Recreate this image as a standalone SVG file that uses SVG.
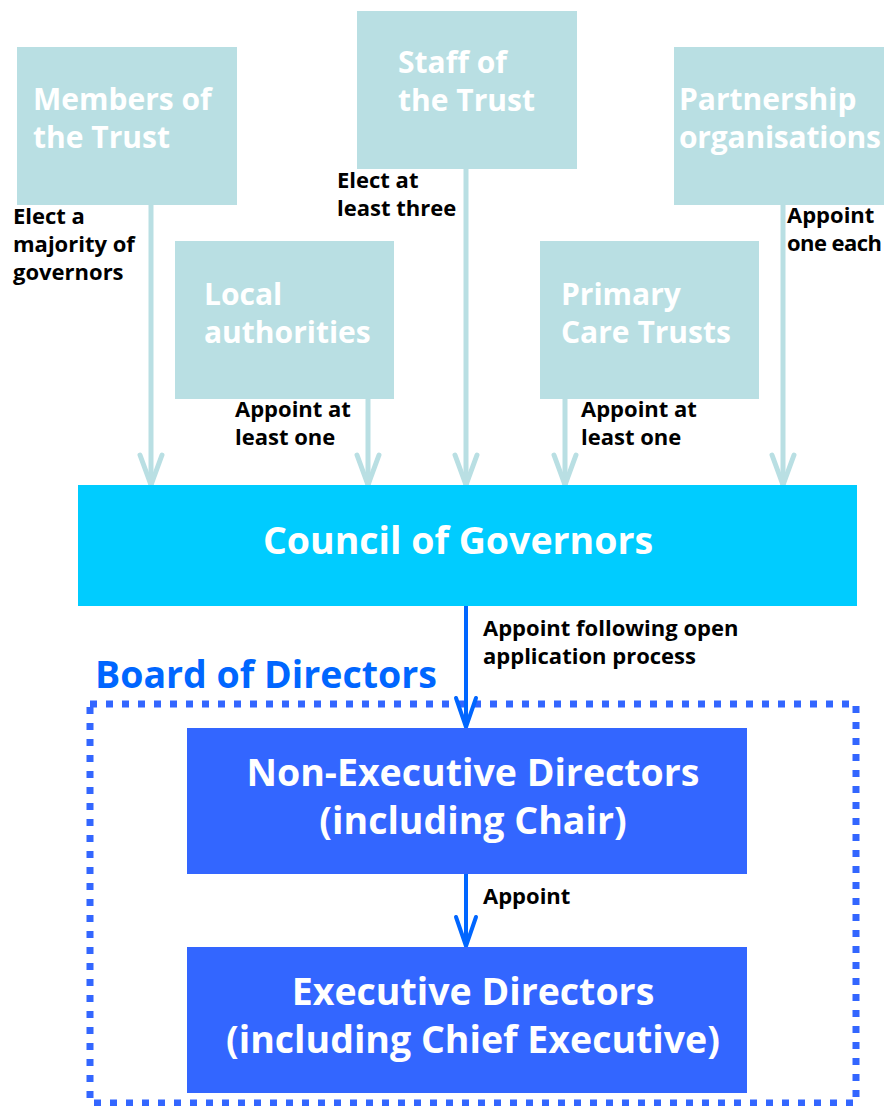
<svg xmlns="http://www.w3.org/2000/svg" width="884" height="1106" viewBox="0 0 884 1106">
<style>
.src{fill:#b9dfe3}
.srct{font-family:"Open Sans","Noto Sans",sans-serif;font-weight:bold;font-size:30px;fill:#ffffff}
.lbl{font-family:"Open Sans","Noto Sans",sans-serif;font-weight:bold;font-size:22px;fill:#000000}
.big{font-family:"Open Sans","Noto Sans",sans-serif;font-weight:bold;font-size:37.5px;fill:#ffffff;text-anchor:middle}
.lc{stroke:#b9dfe3;stroke-width:5;fill:none}
.bc{stroke:#0066ff;stroke-width:4;fill:none}
</style>
<defs>
<marker id="ahL" markerUnits="userSpaceOnUse" orient="auto" refX="0" refY="0" markerWidth="40" markerHeight="40" viewBox="-35 -15 40 30" overflow="visible">
<path d="M-30,-11 L0,0 L-30,11" fill="none" stroke="#b9dfe3" stroke-width="5" stroke-linecap="round" stroke-linejoin="round"/>
</marker>
<marker id="ahB" markerUnits="userSpaceOnUse" orient="auto" refX="0" refY="0" markerWidth="40" markerHeight="40" viewBox="-35 -15 40 30" overflow="visible">
<path d="M-29,-10 L0,0 L-29,10" fill="none" stroke="#0066ff" stroke-width="4" stroke-linecap="round" stroke-linejoin="round"/>
</marker>
</defs>
<rect width="884" height="1106" fill="#ffffff"/>

<g id="board">
<rect x="90" y="704" width="766" height="399" fill="none" stroke="#3366ff" stroke-width="7" stroke-dasharray="7 9"/>
<text x="95" y="688" font-family="Open Sans, Noto Sans, sans-serif" font-weight="bold" font-size="37.5" fill="#0066ff">Board of Directors</text>
</g>

<g id="connectors">
<line class="lc" x1="151" y1="205" x2="151" y2="485" marker-end="url(#ahL)"/>
<line class="lc" x1="466" y1="169" x2="466" y2="485" marker-end="url(#ahL)"/>
<line class="lc" x1="783" y1="205" x2="783" y2="485" marker-end="url(#ahL)"/>
<line class="lc" x1="368" y1="399" x2="368" y2="485" marker-end="url(#ahL)"/>
<line class="lc" x1="565" y1="399" x2="565" y2="485" marker-end="url(#ahL)"/>
<line class="bc" x1="466" y1="606" x2="466" y2="727" marker-end="url(#ahB)"/>
<line class="bc" x1="466" y1="874" x2="466" y2="946" marker-end="url(#ahB)"/>
<text class="lbl" x="13" y="224">Elect a</text>
<text class="lbl" x="13" y="252">majority of</text>
<text class="lbl" x="13" y="280">governors</text>
<text class="lbl" x="337" y="188">Elect at</text>
<text class="lbl" x="337" y="216">least three</text>
<text class="lbl" x="787" y="223">Appoint</text>
<text class="lbl" x="787" y="251" textLength="95">one each</text>
<text class="lbl" x="235" y="417">Appoint at</text>
<text class="lbl" x="235" y="445">least one</text>
<text class="lbl" x="581" y="417">Appoint at</text>
<text class="lbl" x="581" y="445">least one</text>
<text class="lbl" x="483" y="636">Appoint following open</text>
<text class="lbl" x="483" y="664">application process</text>
<text class="lbl" x="483" y="904">Appoint</text>
</g>

<g id="members">
<rect class="src" x="17" y="47" width="220" height="158"/>
<text class="srct" x="33" y="110">Members of</text>
<text class="srct" x="33" y="148">the Trust</text>
</g>
<g id="staff">
<rect class="src" x="357" y="11" width="220" height="158"/>
<text class="srct" x="398" y="73">Staff of</text>
<text class="srct" x="398" y="111">the Trust</text>
</g>
<g id="partnership">
<rect class="src" x="674" y="47" width="210" height="158"/>
<text class="srct" x="679" y="110">Partnership</text>
<text class="srct" x="679" y="148" textLength="202">organisations</text>
</g>
<g id="local">
<rect class="src" x="175" y="241" width="219" height="158"/>
<text class="srct" x="204" y="305">Local</text>
<text class="srct" x="204" y="343">authorities</text>
</g>
<g id="pct">
<rect class="src" x="540" y="241" width="219" height="158"/>
<text class="srct" x="561" y="305">Primary</text>
<text class="srct" x="561" y="343">Care Trusts</text>
</g>
<g id="council">
<rect x="78" y="485" width="779" height="121" fill="#00ccff"/>
<text class="big" x="458" y="554">Council of Governors</text>
</g>
<g id="nonexec">
<rect x="187" y="728" width="560" height="146" fill="#3366ff"/>
<text class="big" x="473" y="786">Non-Executive Directors</text>
<text class="big" x="473" y="834">(including Chair)</text>
</g>
<g id="exec">
<rect x="187" y="947" width="560" height="146" fill="#3366ff"/>
<text class="big" x="473" y="1005">Executive Directors</text>
<text class="big" x="473" y="1053">(including Chief Executive)</text>
</g>
</svg>
